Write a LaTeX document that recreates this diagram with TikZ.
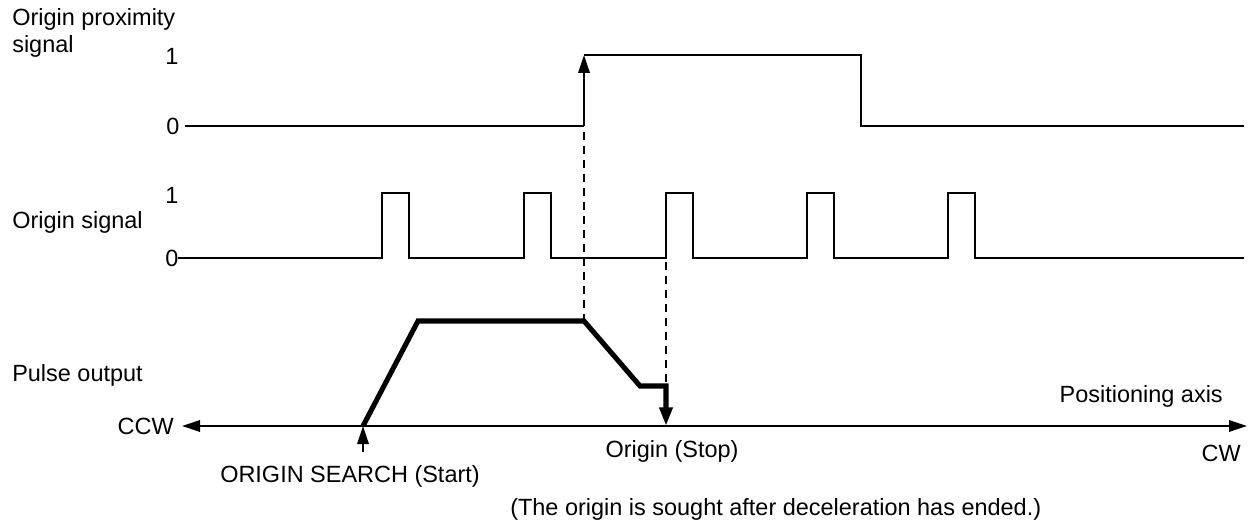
\documentclass[tikz,border=0pt]{standalone}
\usepackage{fontspec}
\setmainfont{Liberation Sans}
\usetikzlibrary{arrows.meta}
\begin{document}
\begin{tikzpicture}[x=0.75pt,y=-0.75pt,
  lbl/.style={font=\fontsize{17.6}{20.5}\selectfont, inner sep=0pt},
  wave/.style={line width=1.75pt, line join=miter},
  heavy/.style={line width=3.8pt, line join=miter},
  guide/.style={line width=1.4pt, dash pattern=on 6pt off 4.5pt},
  tip/.style={-{Triangle[length=13.5pt,width=8.5pt]}},
  bigtip/.style={-{Triangle[length=14pt,width=9.5pt]}}
]
\useasboundingbox (0,0) rectangle (1251,520);

% labels
\node[lbl, anchor=north west, align=left] (proxlbl) at (12,8) {Origin proximity\\signal};
\node[lbl] (p1) at (172,56) {1};
\node[lbl] (p0) at (173,126) {0};
\node[lbl, anchor=west] (orglbl) at (12,222) {Origin signal};
\node[lbl] (o1) at (172,195) {1};
\node[lbl] (o0) at (172,258) {0};
\node[lbl, anchor=west] (pulselbl) at (12,375) {Pulse output};
\node[lbl, anchor=east] (ccw) at (174,426) {CCW};
\node[lbl, anchor=east] (cw) at (1241,453) {CW};
\node[lbl, anchor=east] (posaxis) at (1223,396) {Positioning axis};
\node[lbl] (stoplbl) at (672,451) {Origin (Stop)};
\node[lbl] (startlbl) at (350,476) {ORIGIN SEARCH (Start)};
\node[lbl, anchor=west] (note) at (510,509) {(The origin is sought after deceleration has ended.)};

% origin proximity signal
\coordinate (pL) at (185,126);
\coordinate (rlow) at (584,126);
\coordinate (rhigh) at (584,55);
\coordinate (fhigh) at (861,55);
\coordinate (flow) at (861,126);
\coordinate (pR) at (1244,126);
\draw[wave] (pL) -- (rlow);
\draw[wave, tip] (rlow) -- (rhigh);
\draw[wave] (rhigh) -- (fhigh) -- (flow) -- (pR);

% origin signal
\coordinate (oL) at (178,258);
\coordinate (oR) at (1244,258);
\draw[wave] (oL) foreach \x in {382,524,666,807,948}{ -- (\x,258) -- (\x,193) -- ++(27,0) -- ++(0,65)} -- (oR);

% axis
\coordinate (axL) at (182,426);
\coordinate (axR) at (1247,426);
\draw[wave, {Triangle[length=13.5pt,width=8.5pt]}-{Triangle[length=13.5pt,width=8.5pt]}] (axL) -- (axR);

% start arrow
\coordinate (start) at (363,426);
\coordinate (startbase) at (363,452);
\draw[wave, tip] (startbase) -- (start);

% pulse output profile
\coordinate (acc) at (418,321);
\coordinate (dec) at (584,321);
\coordinate (dec2) at (640,386);
\coordinate (creep) at (666,386);
\coordinate (stop) at (666,426);
\draw[heavy, bigtip] (start) -- (acc) -- (dec) -- (dec2) -- (creep) -- (stop);

% guide lines
\coordinate (g1top) at (584,132);
\coordinate (g2top) at (666,262);
\draw[guide] (g1top) -- (dec);
\draw[guide] (g2top) -- (creep);
\end{tikzpicture}
\end{document}
